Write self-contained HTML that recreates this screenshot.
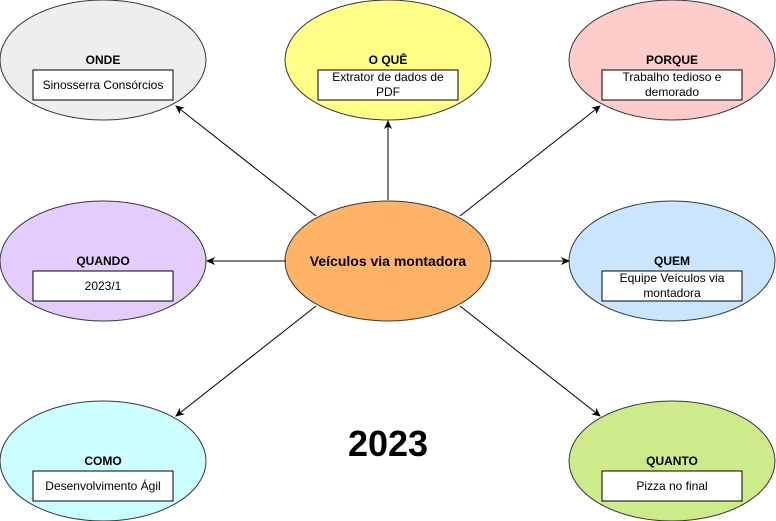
<!DOCTYPE html>
<html><head><meta charset="utf-8"><style>
body{margin:0;background:#fff;}
svg{display:block;font-family:"Liberation Sans",Arial,sans-serif;}
</style></head><body>
<svg width="776" height="521" viewBox="0 0 776 521" xmlns="http://www.w3.org/2000/svg">
<defs><marker id="a" markerWidth="10" markerHeight="10" refX="8" refY="5" orient="auto" markerUnits="userSpaceOnUse"><path d="M0,1 L9,5 L0,9 L2.5,5 Z" fill="#000"/></marker></defs>
<g stroke="#36393d" stroke-width="1">
<ellipse cx="103" cy="60" rx="103" ry="60" fill="#eeeeee"/>
<ellipse cx="388" cy="60" rx="103" ry="60" fill="#ffff88"/>
<ellipse cx="672" cy="60" rx="103" ry="60" fill="#ffcccc"/>
<ellipse cx="103" cy="261" rx="103" ry="60" fill="#e5ccff"/>
<ellipse cx="388" cy="261" rx="103" ry="60" fill="#ffb366"/>
<ellipse cx="672" cy="261" rx="103" ry="60" fill="#cce5ff"/>
<ellipse cx="103" cy="461" rx="103" ry="60" fill="#ccffff"/>
<ellipse cx="672" cy="461" rx="103" ry="60" fill="#cdeb8b"/>
</g>
<g stroke="#000" stroke-width="1" fill="#fff">
<rect x="33" y="70" width="140" height="30"/>
<rect x="318" y="70" width="140" height="30"/>
<rect x="602" y="70" width="140" height="30"/>
<rect x="33" y="271" width="140" height="30"/>
<rect x="602" y="271" width="140" height="30"/>
<rect x="33" y="471" width="140" height="30"/>
<rect x="602" y="471" width="140" height="30"/>
</g>
<g stroke="#000" stroke-width="1" marker-end="url(#a)">
<line x1="316" y1="216" x2="176" y2="106"/>
<line x1="388" y1="200" x2="388" y2="121"/>
<line x1="460" y1="216" x2="600" y2="106"/>
<line x1="286" y1="261" x2="207" y2="261"/>
<line x1="490" y1="261" x2="569" y2="261"/>
<line x1="316" y1="306" x2="176" y2="416"/>
<line x1="460" y1="306" x2="600" y2="416"/>
</g>
<g font-size="12" font-weight="bold" text-anchor="middle" fill="#000">
<text x="103" y="64">ONDE</text>
<text x="388" y="64">O QUÊ</text>
<text x="672" y="64">PORQUE</text>
<text x="103" y="265">QUANDO</text>
<text x="672" y="265">QUEM</text>
<text x="103" y="465">COMO</text>
<text x="672" y="465">QUANTO</text>
<text x="388" y="266" font-size="14">Veículos via montadora</text>
<text x="388" y="456" font-size="36">2023</text>
</g>
<g font-size="12" text-anchor="middle" fill="#000">
<text x="103" y="89">Sinosserra Consórcios</text>
<text x="388" y="81">Extrator de dados de</text>
<text x="388" y="96">PDF</text>
<text x="672" y="81">Trabalho tedioso e</text>
<text x="672" y="96">demorado</text>
<text x="103" y="290">2023/1</text>
<text x="672" y="282">Equipe Veículos via</text>
<text x="672" y="297">montadora</text>
<text x="103" y="490">Desenvolvimento Ágil</text>
<text x="672" y="490">Pizza no final</text>
</g>
</svg>
</body></html>
